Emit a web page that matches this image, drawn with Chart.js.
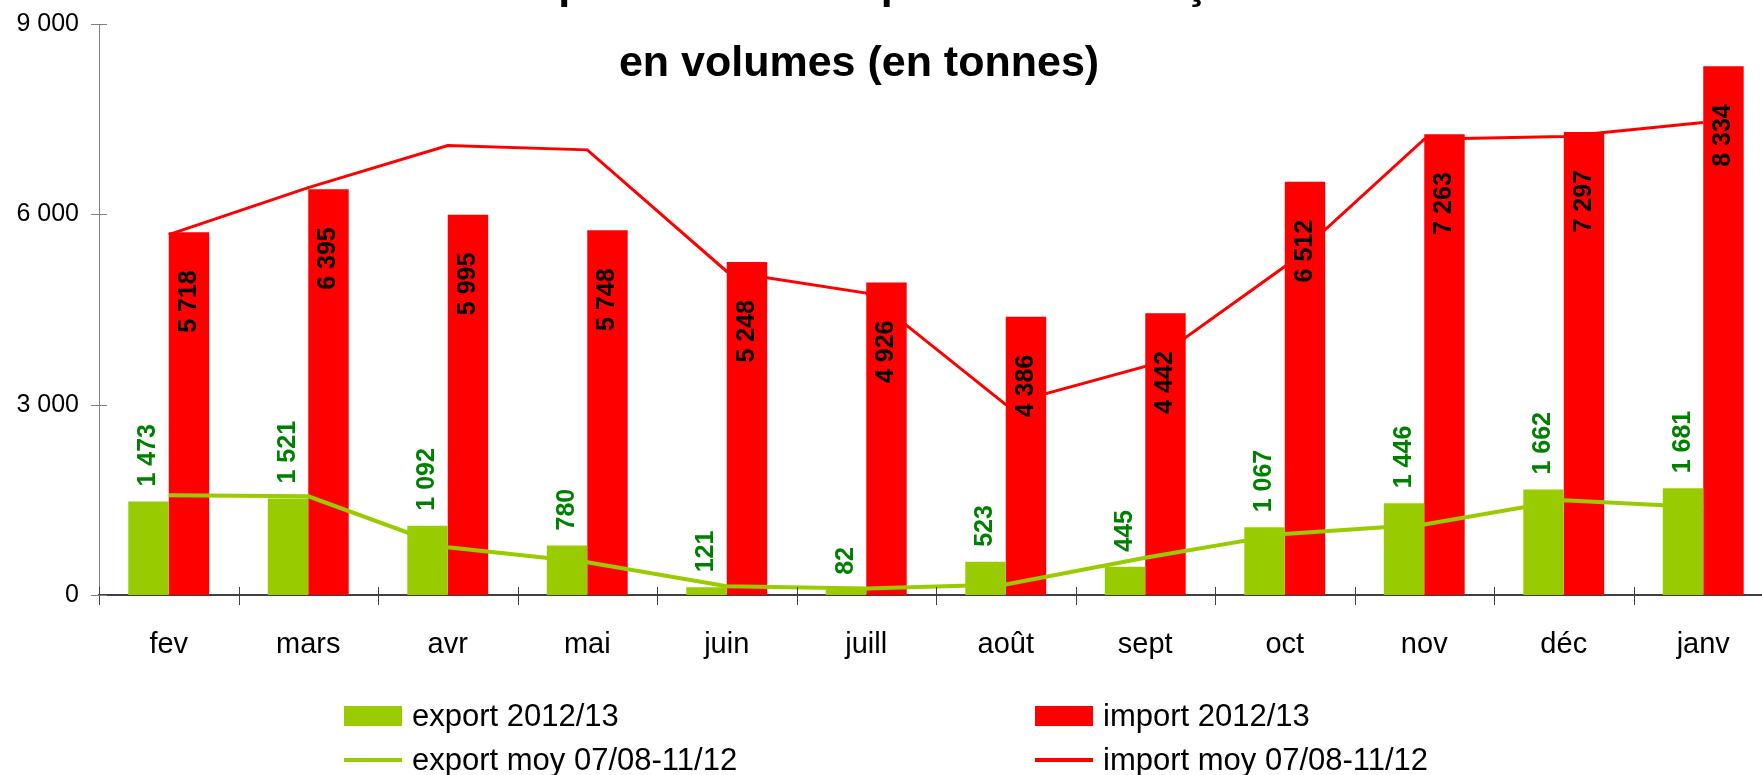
<!DOCTYPE html>
<html>
<head>
  <meta charset="UTF-8">
  <title>Exportations / importations</title>
  <script src="https://cdn.jsdelivr.net/npm/chart.js@4.4.1/dist/chart.umd.min.js"></script>
  <style>
    html, body {
      margin: 0;
      padding: 0;
      width: 1762px;
      height: 775px;
      overflow: hidden;
      background: #fff;
      font-family: "Liberation Sans", Arial, sans-serif;
    }
    #chart {
      position: absolute;
      left: 0;
      top: 0;
    }
    .legend-item {
      position: absolute;
      height: 40px;
      display: flex;
      align-items: center;
      font-size: 31px;
      color: #000;
      white-space: nowrap;
    }
    .legend-item .sym {
      width: 58px;
      margin-right: 10px;
    }
  </style>
</head>
<body>
  <canvas id="chart" width="1790" height="775"></canvas>
  <div id="legend"></div>

<script>
const titleLines = ["Les exportations et importations françaises", "en volumes (en tonnes)"];
const months = ["fev", "mars", "avr", "mai", "juin", "juill", "août", "sept", "oct", "nov", "déc", "janv"];
const export2012 = [1473, 1521, 1092, 780, 121, 82, 523, 445, 1067, 1446, 1662, 1681];
const import2012 = [5718, 6395, 5995, 5748, 5248, 4926, 4386, 4442, 6512, 7263, 7297, 8334];
const exportMoy = [1572, 1556, 753, 517, 139, 102, 165, 586, 963, 1110, 1493, 1383];
const importMoy = [5680, 6422, 7084, 7016, 5099, 4759, 3000, 3603, 5178, 7184, 7226, 7446];
const yTicks = [0, 3000, 6000, 9000];

const GREEN = "#99cc00";
const RED = "#ff0000";
const FONT = "'Liberation Sans', Arial, sans-serif";

function fmt(v) {
  return String(v).replace(/\B(?=(\d{3})+(?!\d))/g, " ");
}

// ticks that cross both axes, like the Excel original
const crossTicks = {
  id: "crossTicks",
  afterDraw(chart) {
    const { ctx, scales: { x, y } } = chart;
    ctx.save();
    ctx.lineWidth = 1;
    ctx.strokeStyle = "#404040";
    for (let i = 0; i <= months.length; i++) {
      const px = Math.round(x.getPixelForValue(i - 0.5)) + 0.5;
      ctx.beginPath();
      ctx.moveTo(px, y.bottom - 8);
      ctx.lineTo(px, y.bottom + 10);
      ctx.stroke();
    }
    ctx.strokeStyle = "#808080";
    yTicks.forEach(v => {
      const py = Math.round(y.getPixelForValue(v)) + 0.5;
      ctx.beginPath();
      ctx.moveTo(x.left - 8, py);
      ctx.lineTo(x.left + 8, py);
      ctx.stroke();
    });
    ctx.restore();
  }
};

const barLabels = {
  id: "barLabels",
  afterDatasetsDraw(chart) {
    const ctx = chart.ctx;
    ctx.save();
    ctx.font = "bold 25px " + FONT;
    ctx.textBaseline = "middle";

    chart.getDatasetMeta(0).data.forEach((el, i) => {
      ctx.save();
      ctx.translate(el.x, el.y - 15);
      ctx.rotate(-Math.PI / 2);
      ctx.textAlign = "left";
      ctx.fillStyle = "#008000";
      ctx.fillText(fmt(export2012[i]), 0, 0);
      ctx.restore();
    });

    chart.getDatasetMeta(1).data.forEach((el, i) => {
      ctx.save();
      ctx.translate(el.x, el.y + 38);
      ctx.rotate(-Math.PI / 2);
      ctx.textAlign = "right";
      ctx.fillStyle = "#000";
      ctx.fillText(fmt(import2012[i]), 0, 0);
      ctx.restore();
    });
    ctx.restore();
  }
};

const titleDraw = {
  id: "titleDraw",
  afterDraw(chart) {
    const ctx = chart.ctx;
    ctx.save();
    ctx.font = "bold 43px " + FONT;
    ctx.fillStyle = "#000";
    ctx.textAlign = "center";
    ctx.textBaseline = "alphabetic";
    ctx.fillText(titleLines[0], 870, -2);
    ctx.fillText(titleLines[1], 859, 76);
    ctx.restore();
  }
};

new Chart(document.getElementById("chart"), {
  type: "bar",
  data: {
    labels: months,
    datasets: [
      { label: "export 2012/13", data: export2012, backgroundColor: GREEN, order: 1 },
      { label: "import 2012/13", data: import2012, backgroundColor: RED, order: 1 },
      { type: "line", label: "export moy 07/08-11/12", data: exportMoy, borderColor: GREEN, borderWidth: 4,
        pointRadius: 0, tension: 0, order: 0 },
      { type: "line", label: "import moy 07/08-11/12", data: importMoy, borderColor: RED, borderWidth: 3,
        pointRadius: 0, tension: 0, order: 0 }
    ]
  },
  options: {
    responsive: false,
    animation: false,
    devicePixelRatio: 1,
    layout: { padding: { top: 24, bottom: 100, left: 0, right: 17 } },
    datasets: { bar: { categoryPercentage: 0.58, barPercentage: 1 } },
    plugins: {
      legend: { display: false },
      title: { display: false },
      tooltip: { enabled: false }
    },
    scales: {
      x: {
        offset: true,
        grid: { display: false, drawTicks: false },
        border: { display: true, color: "#404040", width: 2 },
        ticks: { color: "#000", font: { family: FONT, size: 29 }, padding: 33, maxRotation: 0 },
        afterFit(s) { s.height = 80; }
      },
      y: {
        min: 0,
        max: 9000,
        grid: { display: false, drawTicks: false },
        border: { display: true, color: "#808080", width: 1 },
        afterBuildTicks(s) { s.ticks = yTicks.map(v => ({ value: v })); },
        ticks: { color: "#000", font: { family: FONT, size: 25 }, padding: 20, callback: v => fmt(v) },
        afterFit(s) {
          s.width = 99;
          s.paddingTop = 0;
          s.paddingBottom = 0;
        }
      }
    }
  },
  plugins: [crossTicks, barLabels, titleDraw]
});

// legend in two columns, built from the same series
const legendItems = [
  { text: "export 2012/13", color: GREEN, kind: "box", left: 344, top: 696 },
  { text: "import 2012/13", color: RED, kind: "box", left: 1035, top: 696 },
  { text: "export moy 07/08-11/12", color: GREEN, kind: "line", left: 344, top: 740 },
  { text: "import moy 07/08-11/12", color: RED, kind: "line", left: 1035, top: 740 }
];
const legend = document.getElementById("legend");
legendItems.forEach(it => {
  const d = document.createElement("div");
  d.className = "legend-item";
  d.style.left = it.left + "px";
  d.style.top = it.top + "px";
  const sym = document.createElement("span");
  sym.className = "sym";
  sym.style.background = it.color;
  sym.style.height = it.kind === "box" ? "20px" : "4px";
  d.appendChild(sym);
  d.appendChild(document.createTextNode(it.text));
  legend.appendChild(d);
});
</script>
</body>
</html>
